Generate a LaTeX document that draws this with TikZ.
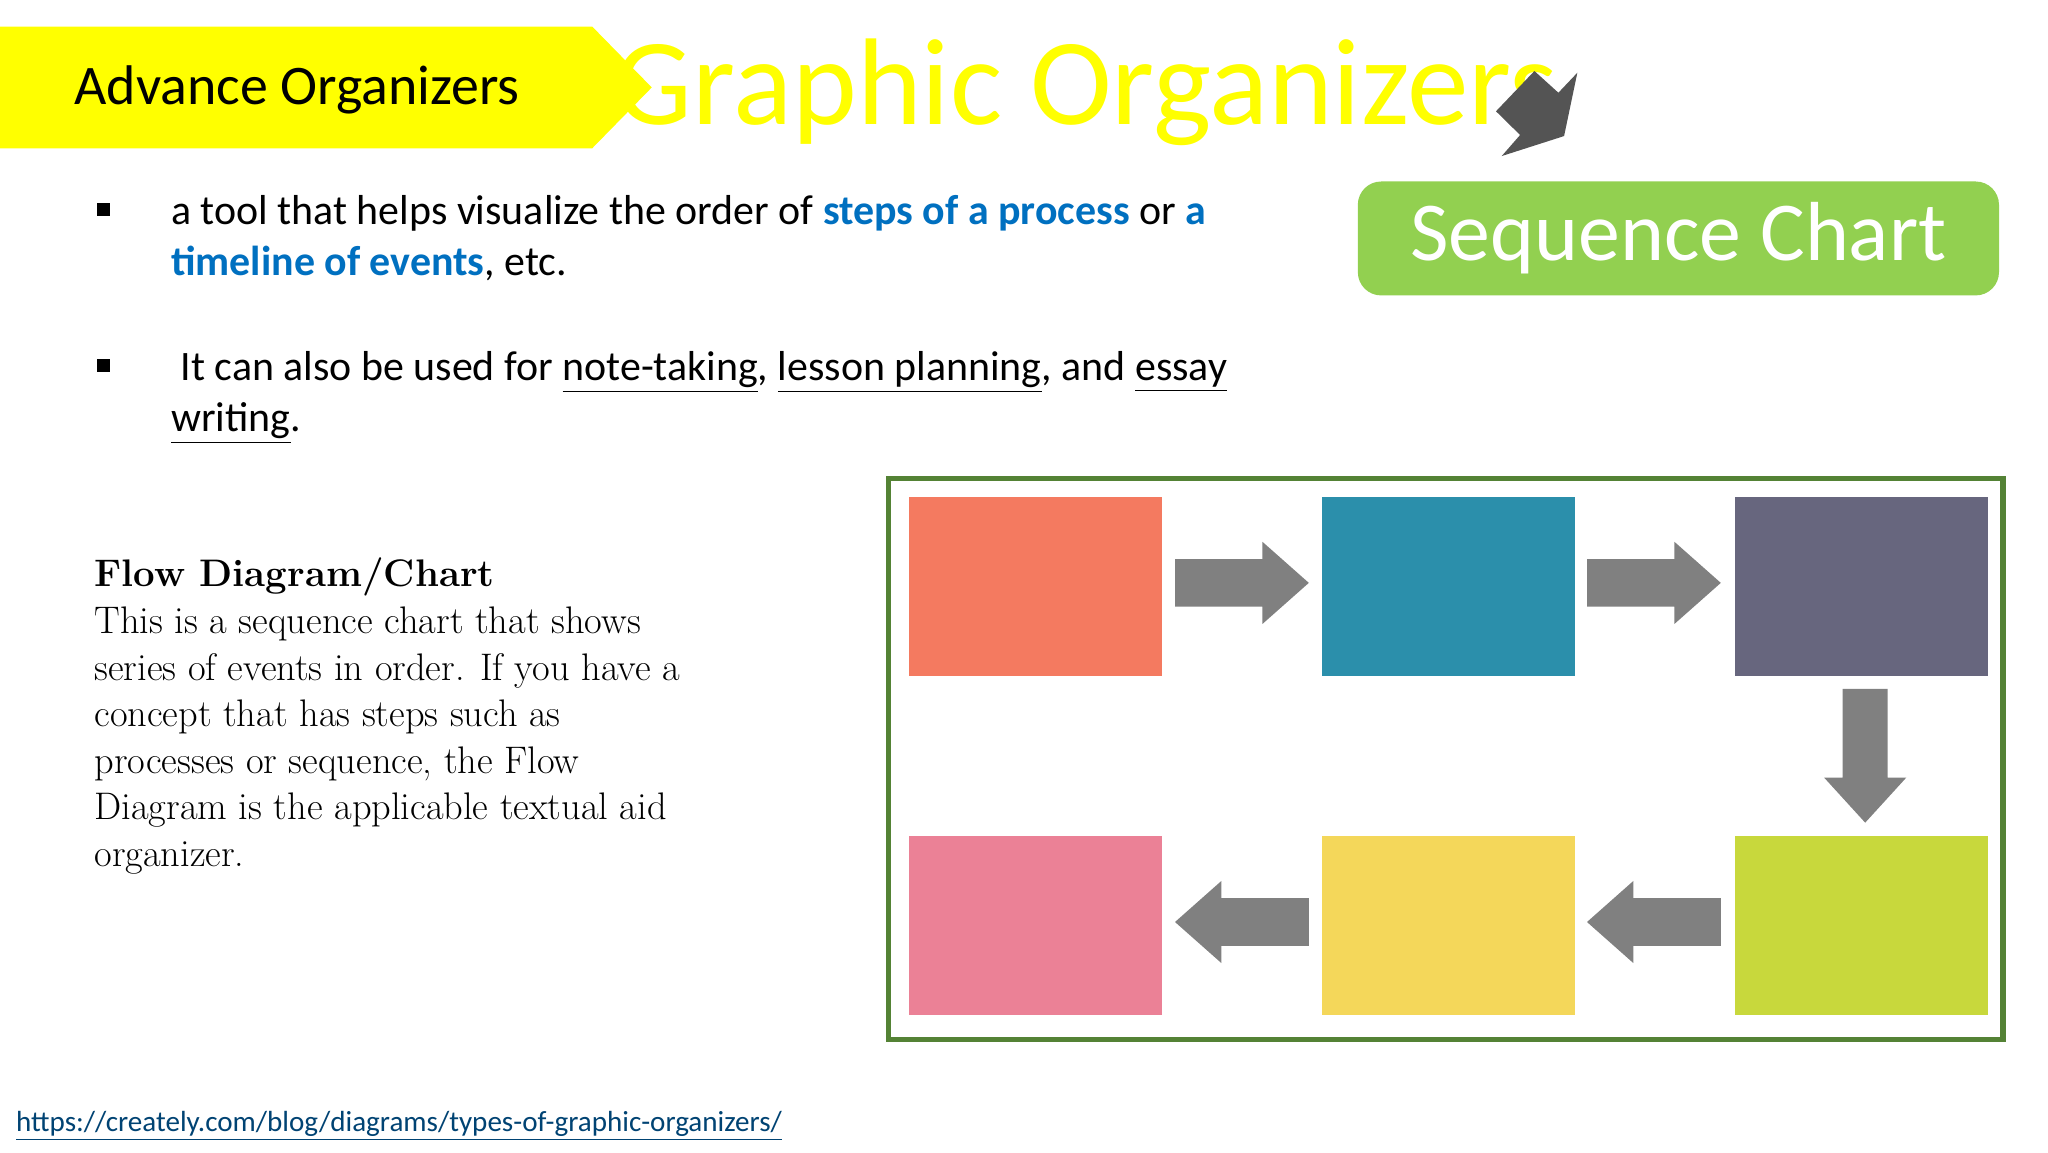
\documentclass[tikz,border=0pt]{standalone}
\usepackage{fontspec}
\setmainfont{Carlito}
\newfontfamily\serifx{Latin Modern Roman}
\usepackage{xcolor}
\newcommand\myul[1]{\underline{#1}}
\definecolor{ttl}{HTML}{FFFF00}
\definecolor{lnk}{HTML}{0070C0}
\definecolor{grn}{HTML}{92D050}
\definecolor{frm}{HTML}{548235}
\definecolor{arr}{HTML}{808080}
\definecolor{c1}{HTML}{F47A60}
\definecolor{c2}{HTML}{2B8FAB}
\definecolor{c3}{HTML}{67667E}
\definecolor{c4}{HTML}{EB8196}
\definecolor{c5}{HTML}{F4D75A}
\definecolor{c6}{HTML}{C8D83C}
\begin{document}
\begin{tikzpicture}[x=0.02cm,y=-0.02cm,
  box/.style={fill=#1,draw=none},
  gar/.style={fill=arr,draw=none}]
\useasboundingbox[fill=white] (0,0) rectangle (1546,870);
% title banner
\fill[ttl] (0,20) -- (447,20) -- (492,66) -- (447,112) -- (0,112) -- cycle;
\node[anchor=west,font=\fontsize{24}{28}\selectfont] (adv) at (50,68) {Advance Organizers};
\node[anchor=west,text=ttl,font=\fontsize{53}{60}\selectfont] (gtitle) at (458,70) {Graphic Organizers};
\fill[black!67] (1158.3,53.6) -- (1176.4,70) -- (1190.7,54.9) -- (1180.7,102.7) -- (1133.6,117.8) -- (1147.5,101.9) -- (1129.3,84) -- cycle;
% green label
\node[fill=grn,rounded corners=10pt,minimum width=484*0.02cm,minimum height=86*0.02cm,text=white,font=\fontsize{36}{40}\selectfont] (seq) at (1267,180) {Sequence Chart};
% bullets
\fill (73,153) rectangle (83,163);
\fill (73,271) rectangle (83,281);
\node[anchor=north west,align=left,font=\fontsize{18}{22}\selectfont,inner sep=0pt] (t1) at (129,147)
 {a tool that helps visualize the order of \textbf{\color{lnk}steps of a process} or \textbf{\color{lnk}a}\\[0pt]\textbf{\color{lnk}timeline of events}, etc.};
\node[anchor=north west,align=left,font=\fontsize{18}{22}\selectfont,inner sep=0pt] (t2) at (129,265)
 {\ It can also be used for \myul{note-taking}, \myul{lesson planning}, and \myul{essay}\\[0pt]\myul{writing}.};
% flow text
\node[anchor=north west,align=left,font=\serifx\fontsize{16.5}{20}\selectfont,inner sep=0pt] (flow) at (71,421)
 {\textbf{Flow Diagram/Chart}\\This is a sequence chart that shows\\series of events in order. If you have a\\concept that has steps such as\\processes or sequence, the Flow\\Diagram is the applicable textual aid\\organizer.};
% link
\node[anchor=west,text=lnk!60!black,font=\fontsize{12.5}{14}\selectfont] (url) at (6,850) {\myul{https://creately.com/blog/diagrams/types-of-graphic-organizers/}};
% frame
\draw[frm,line width=2.2pt,fill=white] (671,361) rectangle (1512,785);
\fill[box=c1] (686,375) rectangle (877,510);
\fill[box=c2] (998,375) rectangle (1189,510);
\fill[box=c3] (1310,375) rectangle (1501,510);
\fill[box=c4] (686,631) rectangle (877,766);
\fill[box=c5] (998,631) rectangle (1189,766);
\fill[box=c6] (1310,631) rectangle (1501,766);
% arrows
\foreach \x in {887,1198}{
 \fill[gar] (\x,422) -- (\x+66,422) -- (\x+66,409) -- (\x+101,440) -- (\x+66,471) -- (\x+66,458) -- (\x,458) -- cycle;
 \fill[gar] (\x+101,678) -- (\x+35,678) -- (\x+35,665) -- (\x,696) -- (\x+35,727) -- (\x+35,714) -- (\x+101,714) -- cycle;}
\fill[gar] (1391,520) -- (1425,520) -- (1425,587) -- (1439,587) -- (1408,621) -- (1377,587) -- (1391,587) -- cycle;
\end{tikzpicture}
\end{document}
